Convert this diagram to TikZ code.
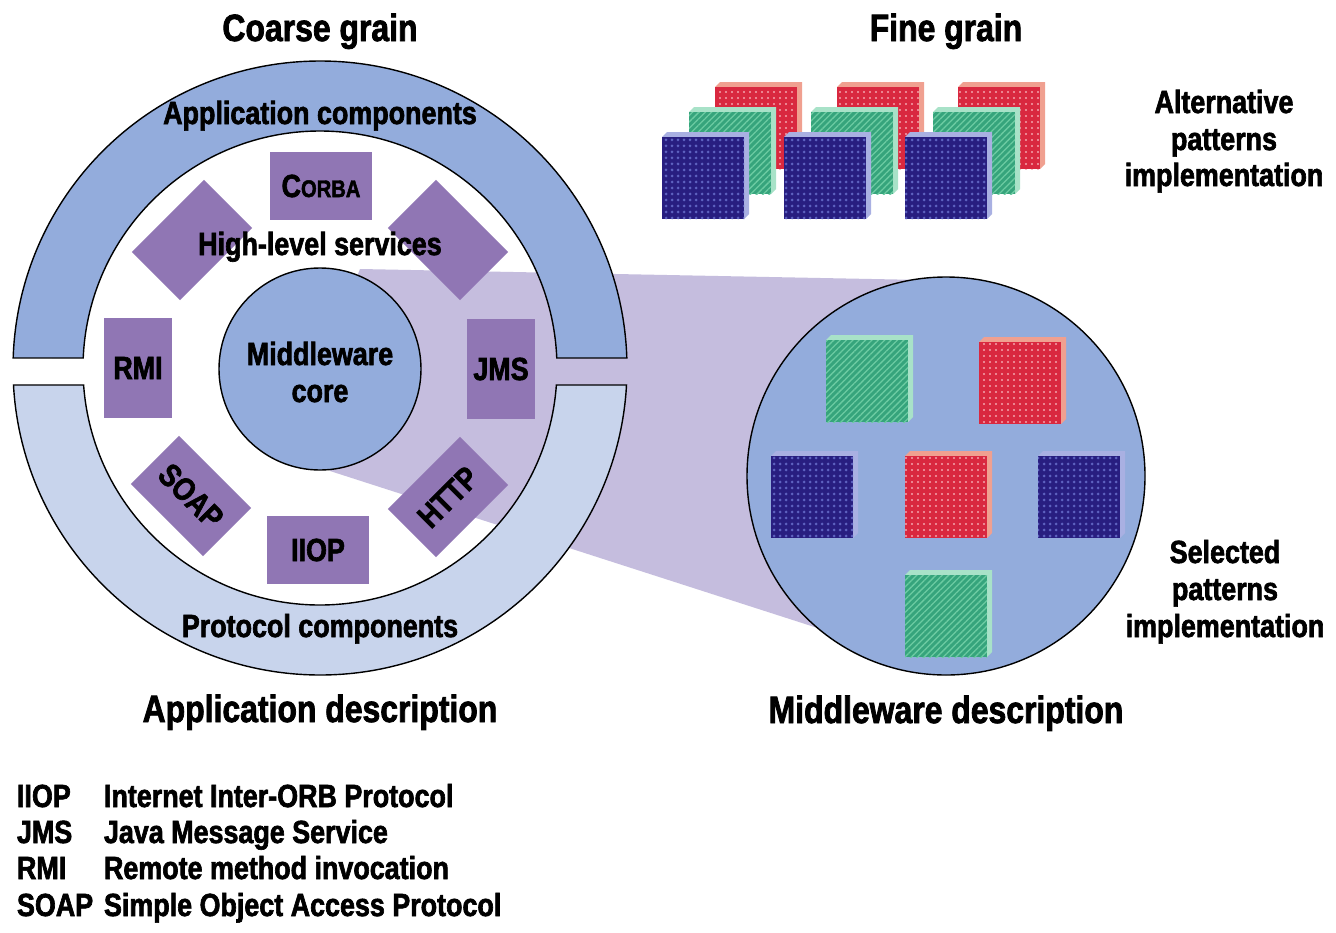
\documentclass[tikz,border=0pt]{standalone}
\usepackage{fontspec}
\setmainfont{Liberation Sans}[FakeStretch=0.84, FakeBold=2]
\usetikzlibrary{patterns.meta,calc}
\definecolor{ringA}{HTML}{93ACDC}
\definecolor{ringB}{HTML}{C8D4EC}
\definecolor{purp}{HTML}{9076B4}
\definecolor{lpurp}{HTML}{C5BDDE}
\definecolor{cred}{HTML}{D9283F}
\definecolor{credL}{HTML}{F4A6AE}
\definecolor{credS}{HTML}{F0A090}
\definecolor{cgrn}{HTML}{36A47C}
\definecolor{cgrnL}{HTML}{6CCBA2}
\definecolor{cgrnS}{HTML}{A8E2C8}
\definecolor{cnav}{HTML}{281E80}
\definecolor{cnavL}{HTML}{5E62C0}
\definecolor{cnavS}{HTML}{A9B0E2}
\newcommand\pcube[3]{%
  \fill[#3side] (#1,#2) -- ++(5,-5) -- ++(82,0) -- ++(0,82) -- ++(-5,5) -- ++(0,-82) -- cycle;
  \path[#3face] (#1,#2) rectangle ++(82,82);
}
\begin{document}
\begin{tikzpicture}[x=1pt,y=-1pt,
  every node/.style={inner sep=0pt, outer sep=0pt, text=black, font=\bfseries\fontsize{32}{37}\selectfont},
  lbl/.style={anchor=base},
  title/.style={anchor=base, font=\bfseries\fontsize{38}{40}\selectfont},
  leg/.style={anchor=base west},
  outl/.style={draw=black, line width=1.4pt},
  pshape/.style={rectangle, fill=purp, minimum width=102pt, minimum height=68pt},
  redside/.style={fill=credS}, grnside/.style={fill=cgrnS}, navside/.style={fill=cnavS},
  redface/.style={preaction={fill=cred}, pattern={Dots[radius=1.2pt,distance=6pt]}, pattern color=credL},
  grnface/.style={preaction={fill=cgrn}, pattern={Lines[angle=45,distance=4.5pt,line width=1.3pt]}, pattern color=cgrnL},
  navface/.style={preaction={fill=cnav}, pattern={Dots[radius=1.5pt,distance=6pt]}, pattern color=cnavL},
]
\useasboundingbox (0,0) rectangle (1336,932);
\fill[white] (0,0) rectangle (1336,932);

% projection from core to right circle
\fill[lpurp] (320,369) -- (360,269) -- (923,280) -- (946,476) -- (830,632) -- (330,471) -- cycle;

% rings
\coordinate (O) at (320,368);
\draw[outl, fill=ringA] (O) ++(-1.87:307) arc[start angle=-1.87, end angle=-178.13, radius=307]
  -- ($(O)+(-177.58:237)$) arc[start angle=-177.58, end angle=-2.42, radius=237] -- cycle;
\draw[outl, fill=ringB] (O) ++(3.17:307) arc[start angle=3.17, end angle=176.83, radius=307]
  -- ($(O)+(175.89:237)$) arc[start angle=175.89, end angle=4.11, radius=237] -- cycle;

% core
\node[circle, outl, fill=ringA, minimum size=202pt] (core) at (320,369) {};

% purple components
\node[pshape] (corba) at (321,186) {C{\fontsize{24}{24}\selectfont ORBA}};
\node[pshape, rotate=45] (dl) at (192,240) {};
\node[pshape, rotate=-45] (dr) at (448,240) {};
\node[pshape, minimum width=68pt, minimum height=100pt] (rmi) at (138,368) {RMI};
\node[pshape, minimum width=68pt, minimum height=100pt] (jms) at (501,369) {JMS};
\node[pshape, rotate=-45] (soap) at (191,496) {SOAP};
\node[pshape, rotate=45] (http) at (448,497) {HTTP};
\node[pshape] (iiop) at (318,550) {IIOP};

% labels left
\node[title] (tcoarse) at (320,41) {Coarse grain};
\node[lbl] (tappc) at (320,124) {Application components};
\node[lbl] (thls) at (320,255) {High-level services};
\node[lbl] (tmw1) at (320,365) {Middleware};
\node[lbl] (tmw2) at (320,402) {core};
\node[lbl] (tprot) at (320,637) {Protocol components};
\node[title] (tappd) at (320,722) {Application description};

% right circle
\node[circle, outl, fill=ringA, minimum size=398pt] (rc) at (946,476) {};
\pcube{826}{340}{grn}
\pcube{979}{342}{red}
\pcube{771}{456}{nav}
\pcube{905}{456}{red}
\pcube{1038}{456}{nav}
\pcube{905}{575}{grn}

% fine grain cubes
\pcube{715}{87}{red}
\pcube{837}{87}{red}
\pcube{958}{87}{red}
\pcube{689}{112}{grn}
\pcube{811}{112}{grn}
\pcube{933}{112}{grn}
\pcube{662}{137}{nav}
\pcube{784}{137}{nav}
\pcube{905}{137}{nav}

% labels right
\node[title] (tfine) at (946,41) {Fine grain};
\node[lbl] (alt1) at (1224,113) {Alternative};
\node[lbl] (alt2) at (1224,150) {patterns};
\node[lbl] (alt3) at (1224,186) {implementation};
\node[lbl] (sel1) at (1225,563) {Selected};
\node[lbl] (sel2) at (1225,600) {patterns};
\node[lbl] (sel3) at (1225,637) {implementation};
\node[title] (tmwd) at (946,723) {Middleware description};

% legend
\node[leg] (a1) at (17,807) {IIOP};
\node[leg] (d1) at (104,807) {Internet Inter-ORB Protocol};
\node[leg] (a2) at (17,843) {JMS};
\node[leg] (d2) at (104,843) {Java Message Service};
\node[leg] (a3) at (17,879) {RMI};
\node[leg] (d3) at (104,879) {Remote method invocation};
\node[leg] (a4) at (17,916) {SOAP};
\node[leg] (d4) at (104,916) {Simple Object Access Protocol};
\end{tikzpicture}
\end{document}
